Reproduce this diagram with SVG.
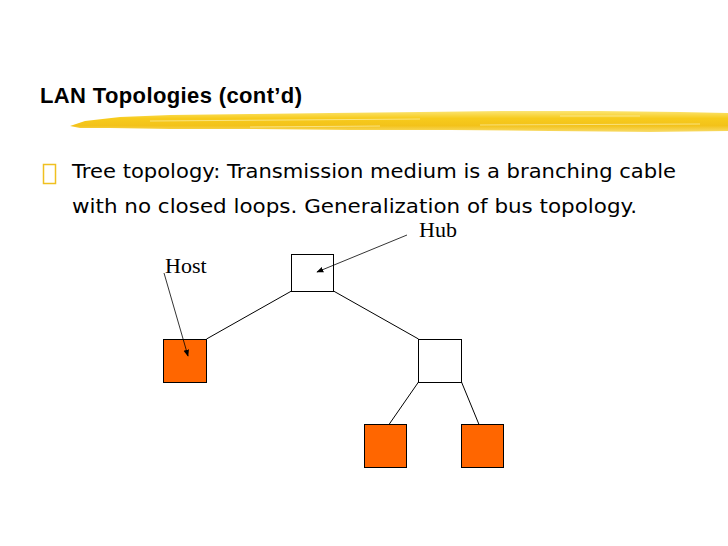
<svg xmlns="http://www.w3.org/2000/svg" width="728" height="546" viewBox="0 0 728 546">
<style>
.title{font-family:"Liberation Sans",Arial,sans-serif;font-weight:bold;font-size:22px;fill:#000}
.body{font-family:"DejaVu Sans",Verdana,sans-serif;font-size:20px;fill:#000}
.lbl{font-family:"Liberation Serif","Times New Roman",serif;font-size:22px;fill:#000}
.box{fill:#fff;stroke:#000;stroke-width:1}
.host{fill:#ff6600;stroke:#000;stroke-width:1}
.link{stroke:#000;stroke-width:1;fill:none}
.ptr{stroke:#000;stroke-width:0.8;fill:none;marker-end:url(#ah)}
</style>
<defs>
<marker id="ah" viewBox="0 0 10 10" refX="9" refY="5" markerWidth="7" markerHeight="7" orient="auto" markerUnits="userSpaceOnUse">
<path d="M0,1 L10,5 L0,9 z" fill="#000"/>
</marker>
<linearGradient id="brush" x1="0" y1="0" x2="0" y2="1">
<stop offset="0" stop-color="#fbe574"/>
<stop offset="0.35" stop-color="#f7cb1c"/>
<stop offset="0.7" stop-color="#f3c21a"/>
<stop offset="1" stop-color="#f8dc6a"/>
</linearGradient>
</defs>
<rect width="728" height="546" fill="#fff"/>
<g id="title">
<text class="title" x="40" y="103" textLength="262" lengthAdjust="spacing">LAN Topologies (cont’d)</text>
<polygon fill="url(#brush)" points="70,126 85,121 120,117 170,115 250,114 330,113 420,112 500,111 600,111 680,112 728,113 728,131 650,132 550,131 450,130 350,130 250,129 170,129 110,128 80,128"/>
<path d="M150,121 L420,119 M480,125 L700,124 M250,127 L380,126 M560,116 L640,116" stroke="#fdf0a8" stroke-width="1" opacity="0.7"/>
</g>
<g id="bullet-text">
<rect x="43.5" y="164.5" width="12" height="19" fill="none" stroke="#f0c020" stroke-width="1.5"/>
<text class="body" x="72" y="178" textLength="604" lengthAdjust="spacingAndGlyphs">Tree topology: Transmission medium is a branching cable</text>
<text class="body" x="72" y="213" textLength="565" lengthAdjust="spacingAndGlyphs">with no closed loops. Generalization of bus topology.</text>
</g>
<g id="connectors">
<line class="link" x1="206.5" y1="339" x2="291.5" y2="291"/>
<line class="link" x1="333.5" y1="291" x2="418.5" y2="339"/>
<line class="link" x1="418.5" y1="382" x2="389" y2="424.5"/>
<line class="link" x1="461.5" y1="382" x2="479" y2="424.5"/>
</g>
<g id="hub-root"><rect class="box" x="291.5" y="254.5" width="42" height="37"/></g>
<g id="hub-2"><rect class="box" x="418.5" y="339.5" width="43" height="43"/></g>
<g id="host-1"><rect class="host" x="163.5" y="339.5" width="43" height="43"/></g>
<g id="host-2"><rect class="host" x="364.5" y="424.5" width="42" height="43"/></g>
<g id="host-3"><rect class="host" x="461.5" y="424.5" width="42" height="43"/></g>
<g id="pointers">
<line class="ptr" x1="407" y1="235" x2="317" y2="272"/>
<line class="ptr" x1="164" y1="273" x2="188" y2="356"/>
</g>
<g id="labels">
<text class="lbl" x="419" y="237">Hub</text>
<text class="lbl" x="165" y="273">Host</text>
</g>
</svg>
